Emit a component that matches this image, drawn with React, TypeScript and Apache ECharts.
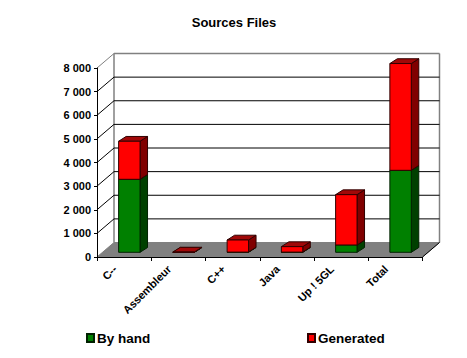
import React, { useEffect, useRef } from "react";
import * as echarts from "echarts";

const title = "Sources Files";
const categories = ["C--", "Assembleur", "C++", "Java", "Up ! 5GL", "Total"];
const byHand = [3090, 0, 10, 10, 310, 3470];
const generated = [1610, 10, 510, 230, 2130, 4520];
const yTicks = [0, 1000, 2000, 3000, 4000, 5000, 6000, 7000, 8000];
const FONT = '"Liberation Sans", Arial, sans-serif';

const WALL_DX = 17, WALL_DY = 14.5;
const BAR_DX = 7.5, BAR_DY = 4.8, BAR_SX = 5.2, BAR_SY = 4.7;

const fmt = (v: number) => (v >= 1000 ? `${Math.floor(v / 1000)} ${String(v % 1000).padStart(3, "0")}` : String(v));

function backdrop(params: any, api: any) {
  const cs = params.coordSys;
  const L = cs.x, R = cs.x + cs.width;
  const v = api.value(0);
  const y = api.coord([0, v])[1];
  const top = v === yTicks[yTicks.length - 1];
  const grey = "#808080";
  const children: any[] = [];
  if (v === 0) {
    const yTop = api.coord([0, yTicks[yTicks.length - 1]])[1];
    children.push({
      type: "polygon", z2: 1,
      shape: { points: [[L, y], [L + WALL_DX, y - WALL_DY], [R + WALL_DX, y - WALL_DY], [R, y]] },
      style: { fill: grey, stroke: grey, lineWidth: 1 },
    });
    children.push({
      type: "line", z2: 2,
      shape: { x1: L + WALL_DX, y1: y - WALL_DY, x2: L + WALL_DX, y2: yTop - WALL_DY },
      style: { stroke: grey, lineWidth: 1.5 },
    });
    children.push({
      type: "line", z2: 2,
      shape: { x1: R + WALL_DX, y1: y - WALL_DY, x2: R + WALL_DX, y2: yTop - WALL_DY },
      style: { stroke: grey, lineWidth: 1.5 },
    });
    children.push({
      type: "line", z2: 3,
      shape: { x1: R, y1: y, x2: R + WALL_DX, y2: y - WALL_DY },
      style: { stroke: "#000", lineWidth: 1 },
    });
  } else {
    const c = top ? grey : "#000";
    children.push({
      type: "line", z2: 3,
      shape: { x1: L + WALL_DX, y1: y - WALL_DY, x2: R + WALL_DX, y2: y - WALL_DY },
      style: { stroke: c, lineWidth: top ? 1.5 : 1 },
    });
    children.push({
      type: "line", z2: 3,
      shape: { x1: L, y1: y, x2: L + WALL_DX, y2: y - WALL_DY },
      style: { stroke: c, lineWidth: 1 },
    });
  }
  return { type: "group", children };
}

function bar3d(front: string, side: string, topFill: string, edge: string) {
  return (params: any, api: any) => {
    const i = api.value(0);
    const base = api.value(1);
    const end = api.value(2);
    const w = api.size([1, 0])[0] * 0.395;
    const cx = api.coord([i, 0])[0] + BAR_SX;
    const y0 = api.coord([i, base])[1] - BAR_SY;
    const y1 = api.coord([i, end])[1] - BAR_SY;
    const xl = cx - w / 2, xr = cx + w / 2;
    const st = (fill: string) => ({ fill, stroke: edge, lineWidth: 1 });
    return {
      type: "group",
      children: [
        { type: "polygon", shape: { points: [[xr, y0], [xr + BAR_DX, y0 - BAR_DY], [xr + BAR_DX, y1 - BAR_DY], [xr, y1]] }, style: st(side) },
        { type: "polygon", shape: { points: [[xl, y1], [xl + BAR_DX, y1 - BAR_DY], [xr + BAR_DX, y1 - BAR_DY], [xr, y1]] }, style: st(topFill) },
        { type: "polygon", shape: { points: [[xl, y0], [xr, y0], [xr, y1], [xl, y1]] }, style: st(front) },
      ],
    };
  };
}

export default function App() {
  const ref = useRef<HTMLDivElement>(null);
  useEffect(() => {
    const chart = echarts.init(ref.current!, undefined, { renderer: "svg" });
    const handData = categories.map((_, i) => [i, 0, byHand[i]]);
    const genData = categories.map((_, i) => [i, byHand[i], byHand[i] + generated[i]]);
    const legendText = { fontFamily: FONT, fontSize: 13.5, fontWeight: "bold", color: "#000", padding: [0, 0, 0, -2] };
    chart.setOption({
      animation: false,
      backgroundColor: "#fff",
      title: {
        text: title, left: 234, top: 16, padding: 0, textAlign: "center",
        textStyle: { fontFamily: FONT, fontSize: 13, fontWeight: "bold", color: "#000" },
      },
      legend: [
        { data: ["By hand"], left: 86, top: 331, padding: 0, itemWidth: 7, itemHeight: 8, itemGap: 4, icon: "rect", textStyle: legendText },
        { data: ["Generated"], left: 307, top: 331, padding: 0, itemWidth: 7, itemHeight: 8, itemGap: 4, icon: "rect", textStyle: legendText },
      ],
      grid: { left: 97, right: 44.5, top: 68, bottom: 101, outerBoundsMode: "none" },
      xAxis: {
        type: "category",
        data: categories,
        z: 5,
        axisLine: { lineStyle: { color: "#000", width: 1 } },
        axisTick: { show: true, alignWithLabel: false, length: 4, lineStyle: { color: "#000" } },
        axisLabel: {
          rotate: 45, interval: 0, margin: 1, padding: [0, 13, 0, 0], color: "#000",
          fontFamily: FONT, fontSize: 11, fontWeight: "bold",
        },
      },
      yAxis: {
        type: "value", min: 0, max: 8000, interval: 1000, z: 5,
        axisLine: { show: true, lineStyle: { color: "#000", width: 1 } },
        axisTick: { show: true, length: 3, lineStyle: { color: "#000" } },
        splitLine: { show: false },
        axisLabel: {
          formatter: (v: number) => fmt(v), margin: 6, color: "#000",
          fontFamily: FONT, fontSize: 11, fontWeight: "bold",
        },
      },
      series: [
        {
          type: "custom", name: "wall", renderItem: backdrop, silent: true, clip: false, z: 1,
          data: yTicks.map((v) => [v]), encode: { y: 0 },
        },
        {
          type: "custom", name: "By hand", renderItem: bar3d("#008000", "#004000", "#006000", "#002000"),
          clip: false, z: 2, data: handData, encode: { x: 0, y: [1, 2] },
          itemStyle: { color: "#008000", borderColor: "#002000", borderWidth: 1 },
        },
        {
          type: "custom", name: "Generated", renderItem: bar3d("#ff0000", "#800000", "#a00808", "#300000"),
          clip: false, z: 3, data: genData, encode: { x: 0, y: [1, 2] },
          itemStyle: { color: "#ff0000", borderColor: "#300000", borderWidth: 1 },
        },
      ],
    });
    return () => chart.dispose();
  }, []);
  return <div ref={ref} style={{ position: "fixed", left: 0, top: 0, width: 467, height: 358 }} />;
}
